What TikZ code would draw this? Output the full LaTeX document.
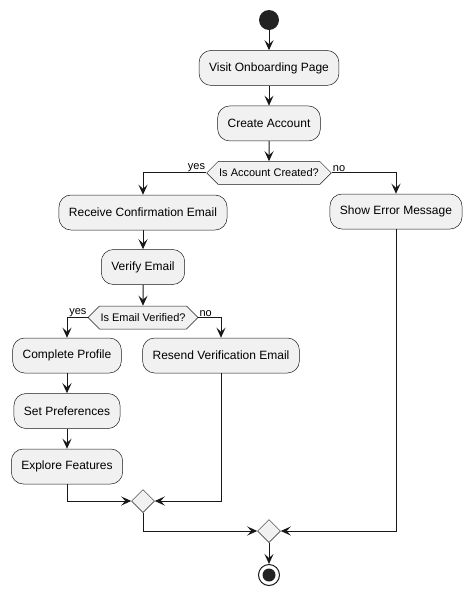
\documentclass[tikz,border=0pt]{standalone}
\usepackage{fontspec}
\setmainfont{Liberation Sans}
\usetikzlibrary{arrows.meta, positioning, shapes.geometric, shapes.symbols}

\definecolor{boxfill}{HTML}{F1F1F1}
\definecolor{linecol}{HTML}{181818}
\definecolor{dotcol}{HTML}{222222}

\begin{document}
\begin{tikzpicture}[
  x=1pt, y=-1pt,
  node distance=20pt,
  act/.style={
    rectangle,
    draw=linecol,
    line width=0.5pt,
    rounded corners=12pt,
    align=center,
    minimum height=35pt,
    inner xsep=10pt,
    fill=boxfill,
    font=\fontsize{12}{14}\selectfont
  },
  decide/.style={
    signal,
    signal to=west and east,
    draw=linecol,
    line width=0.5pt,
    fill=boxfill,
    minimum height=23pt,
    inner xsep=1pt,
    inner ysep=0pt,
    font=\fontsize{11}{13}\selectfont
  },
  merge/.style={
    diamond,
    draw=linecol,
    line width=0.5pt,
    fill=boxfill,
    minimum size=23pt,
    inner sep=0pt
  },
  branch/.style={font=\fontsize{11}{13}\selectfont, inner sep=1pt},
  arrow/.style={-{Stealth[length=10pt, width=9pt, inset=4pt]}, line width=1pt, draw=linecol}
]
\useasboundingbox (0,0) rectangle (471,595);

% Nodes (top spine)
\node[circle, fill=dotcol, minimum size=20pt, inner sep=0pt] (start) at (269,20) {};
\node[act, below=of start] (visit) {Visit Onboarding Page};
\node[act, below=of visit] (create) {Create Account};
\node[decide, below=of create] (acct) {Is Account Created?};

% Nodes (yes branch)
\node[act] (confirm) at (143,212.5) {Receive Confirmation Email};
\node[act, below=19pt of confirm] (verify) {Verify Email};
\node[decide, below=21pt of verify] (verified) {Is Email Verified?};
\node[act] (profile) at (67,355.5) {Complete Profile};
\node[act, below=of profile] (prefs) {Set Preferences};
\node[act, below=of prefs] (explore) {Explore Features};
\node[act] (resend) at (221,355.5) {Resend Verification Email};

% Nodes (no branch)
\node[act] (error) at (396,211.5) {Show Error Message};

% Merges and end
\node[merge] (join1) at (143,501) {};
\node[merge] (join2) at (269,531) {};
\node[circle, draw=linecol, line width=1pt, fill=white, minimum size=21pt, inner sep=0pt] (stop) at (269,575) {};
\node[circle, fill=dotcol, minimum size=13pt, inner sep=0pt] at (stop) {};

% Arrows
\draw[arrow] (start) -- (visit);
\draw[arrow] (visit) -- (create);
\draw[arrow] (create) -- (acct);
\draw[arrow] (acct.west) -| (confirm.north);
\draw[arrow] (acct.east) -| (error.north);
\draw[arrow] (confirm) -- (verify);
\draw[arrow] (verify) -- (verified);
\draw[arrow] (verified.west) -| (profile.north);
\draw[arrow] (verified.east) -| (resend.north);
\draw[arrow] (profile) -- (prefs);
\draw[arrow] (prefs) -- (explore);
\draw[arrow] (explore.south) |- (join1.west);
\draw[arrow] (resend.south) |- (join1.east);
\draw[arrow] (join1.south) |- (join2.west);
\draw[arrow] (error.south) |- (join2.east);
\draw[arrow] (join2) -- (stop);

% Branch labels
\node[branch, anchor=south east] at (acct.west) {yes};
\node[branch, anchor=south west] at (acct.east) {no};
\node[branch, anchor=south east] at (verified.west) {yes};
\node[branch, anchor=south west] at (verified.east) {no};

\end{tikzpicture}
\end{document}
